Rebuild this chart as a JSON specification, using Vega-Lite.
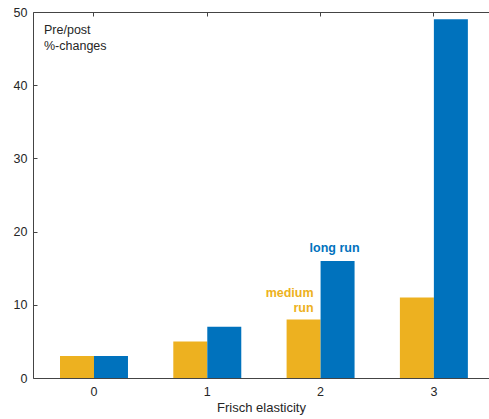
{
  "$schema": "https://vega.github.io/schema/vega-lite/v6.json",
  "width": 456,
  "height": 366,
  "autosize": {"type": "none"},
  "padding": {"left": 33, "top": 12, "right": 0, "bottom": 41},
  "background": "white",
  "config": {
    "font": "Liberation Sans",
    "view": {"stroke": null},
    "axis": {
      "grid": false,
      "domainColor": "#444444",
      "domainWidth": 1,
      "tickColor": "#444444",
      "tickWidth": 1,
      "labelColor": "#262626",
      "labelFontSize": 12.5,
      "titleColor": "#262626",
      "titleFontSize": 13,
      "titleFontWeight": "normal"
    }
  },
  "title": {
    "text": ["Pre/post", "%-changes"],
    "anchor": "start",
    "frame": "group",
    "orient": "top",
    "baseline": "top",
    "offset": -46,
    "dx": 11,
    "fontSize": 12.5,
    "fontWeight": "normal",
    "color": "#262626",
    "lineHeight": 16
  },
  "data": {
    "values": [
      {"frisch": "0", "horizon": "medium run", "change": 3},
      {"frisch": "0", "horizon": "long run", "change": 3},
      {"frisch": "1", "horizon": "medium run", "change": 5},
      {"frisch": "1", "horizon": "long run", "change": 7},
      {"frisch": "2", "horizon": "medium run", "change": 8},
      {"frisch": "2", "horizon": "long run", "change": 16},
      {"frisch": "3", "horizon": "medium run", "change": 11},
      {"frisch": "3", "horizon": "long run", "change": 49}
    ]
  },
  "encoding": {
    "xOffset": {
      "field": "horizon",
      "type": "nominal",
      "scale": {"domain": ["medium run", "long run"], "paddingInner": 0, "paddingOuter": 0}
    },
    "y": {
      "field": "change",
      "type": "quantitative",
      "scale": {"domain": [0, 50], "nice": false, "zero": true},
      "axis": {
        "orient": "left",
        "title": null,
        "values": [0, 10, 20, 30, 40, 50],
        "tickSize": -4,
        "labelPadding": 10
      }
    }
  },
  "layer": [
    {
      "mark": {"type": "bar"},
      "encoding": {
        "x": {
          "field": "frisch",
          "type": "nominal",
          "scale": {
            "type": "band",
            "domain": ["0", "1", "2", "3"],
            "paddingInner": 0.4,
            "paddingOuter": 0.2124,
            "align": 0.561
          },
          "axis": {
            "orient": "bottom",
            "title": "Frisch elasticity",
            "labelAngle": 0,
            "ticks": false,
            "labelPadding": 7,
            "titlePadding": 4
          }
        },
        "color": {
          "field": "horizon",
          "type": "nominal",
          "scale": {"domain": ["medium run", "long run"], "range": ["#EDB120", "#0072BD"]},
          "legend": null
        }
      }
    },
    {
      "transform": [{"filter": "datum.frisch === '2' && datum.horizon === 'long run'"}],
      "mark": {
        "type": "text",
        "align": "center",
        "baseline": "alphabetic",
        "dx": -3,
        "dy": -9,
        "fontSize": 12.5,
        "fontWeight": "bold",
        "color": "#0072BD"
      },
      "encoding": {
        "x": {
          "field": "frisch",
          "type": "nominal",
          "axis": {"orient": "top", "title": null, "labels": false, "tickSize": -4, "ticks": true}
        },
        "text": {"field": "horizon"}
      }
    },
    {
      "transform": [{"filter": "datum.frisch === '2' && datum.horizon === 'medium run'"}],
      "mark": {
        "type": "text",
        "align": "right",
        "baseline": "alphabetic",
        "lineBreak": " ",
        "lineHeight": 15.6,
        "dx": 10,
        "dy": -22.7,
        "fontSize": 12.5,
        "fontWeight": "bold",
        "color": "#EDB120"
      },
      "encoding": {
        "x": {"field": "frisch", "type": "nominal", "axis": null},
        "text": {"field": "horizon"}
      }
    }
  ]
}
